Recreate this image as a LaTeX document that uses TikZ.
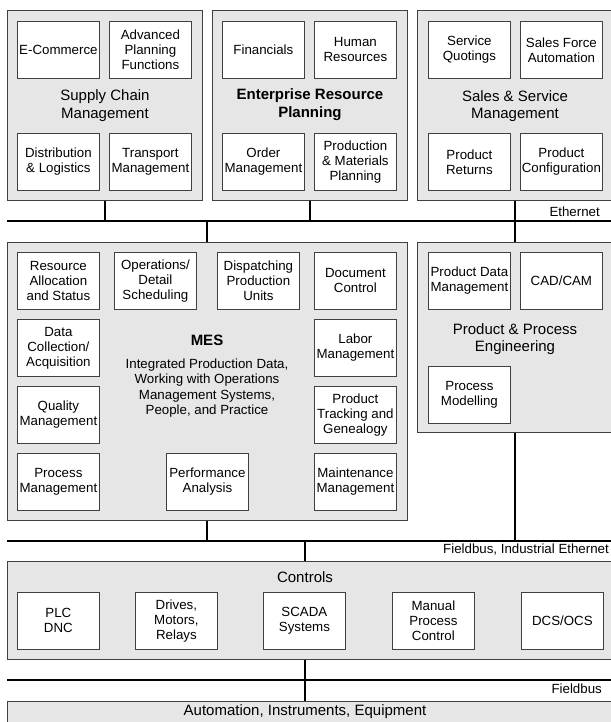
\documentclass[tikz,border=0pt]{standalone}
\usepackage{fontspec}
\setmainfont{Liberation Sans}
\definecolor{panel}{HTML}{E6E6E6}
\definecolor{edge}{HTML}{404040}
\begin{document}
\begin{tikzpicture}[x=1pt,y=-1pt,
 obox/.style={draw=edge, fill=panel, line width=0.9pt, anchor=north west, inner sep=0pt},
 ibox/.style={draw=edge, fill=white, line width=0.8pt, anchor=north west, inner sep=0pt,
   minimum width=82pt, minimum height=57pt, align=center, font=\fontsize{13.3}{15}\selectfont},
 big/.style={align=center, font=\fontsize{15}{17.5}\selectfont, inner sep=0pt},
 bigb/.style={align=center, font=\fontsize{15}{17.5}\selectfont\bfseries, inner sep=0pt},
 lbl/.style={font=\fontsize{13.3}{15}\selectfont, inner sep=0pt},
 sub/.style={align=center, font=\fontsize{13.3}{15.5}\selectfont, inner sep=0pt},
 bus/.style={line width=2pt},
 link/.style={line width=2pt}]
\useasboundingbox (0,0) rectangle (610,722);

% outer panels
\node[obox, minimum width=195pt, minimum height=190pt] (scm) at (7,10) {};
\node[obox, minimum width=195pt, minimum height=190pt] (erp) at (212,10) {};
\node[obox, minimum width=199pt, minimum height=190pt] (ssm) at (417,10) {};
\node[obox, minimum width=400pt, minimum height=278pt] (mes) at (7,242) {};
\node[obox, minimum width=199pt, minimum height=190pt] (ppe) at (417,242) {};
\node[obox, minimum width=609pt, minimum height=98pt] (ctl) at (7,561) {};
\node[obox, minimum width=609pt, minimum height=40pt] (aut) at (7,701) {};

% panel titles
\node[big] (scml) at (scm.center) {Supply Chain\\Management};
\node[bigb] (erpl) at ([yshift=1pt]erp.center) {Enterprise Resource\\Planning};
\node[big] (ssml) at (515,106) {Sales \& Service\\Management};
\node[big] (ppel) at (515,339) {Product \& Process\\Engineering};
\node[bigb] (mesl) at (207,340) {MES};
\node[sub] (mess) at (207,388) {Integrated Production Data,\\Working with Operations\\Management Systems,\\People, and Practice};
\node[big] (ctll) at (305,577) {Controls};
\node[big] (autl) at (305,712) {Automation, Instruments, Equipment};

% Supply chain
\node[ibox] (ecom) at (17,21) {E-Commerce};
\node[ibox] (apf) at (109,21) {Advanced\\Planning\\Functions};
\node[ibox] (dist) at (17,133) {Distribution\\\& Logistics};
\node[ibox] (trans) at (109,133) {Transport\\Management};
% ERP
\node[ibox] (fin) at (222,21) {Financials};
\node[ibox] (hr) at (314,21) {Human\\Resources};
\node[ibox] (order) at (222,133) {Order\\Management};
\node[ibox] (pmp) at (314,133) {Production\\\& Materials\\Planning};
% Sales & Service
\node[ibox] (quot) at (428,21) {Service\\Quotings};
\node[ibox] (sfa) at (520,21) {Sales Force\\Automation};
\node[ibox] (ret) at (428,133) {Product\\Returns};
\node[ibox] (conf) at (520,133) {Product\\Configuration};
% MES
\node[ibox] (res) at (17,252) {Resource\\Allocation\\and Status};
\node[ibox] (ops) at (114,252) {Operations/\\Detail\\Scheduling};
\node[ibox] (disp) at (217,252) {Dispatching\\Production\\Units};
\node[ibox] (doc) at (314,252) {Document\\Control};
\node[ibox] (dca) at (17,319) {Data\\Collection/\\Acquisition};
\node[ibox] (lab) at (314,319) {Labor\\Management};
\node[ibox] (qual) at (17,386) {Quality\\Management};
\node[ibox] (track) at (314,386) {Product\\Tracking and\\Genealogy};
\node[ibox] (proc) at (17,453) {Process\\Management};
\node[ibox] (perf) at (166,453) {Performance\\Analysis};
\node[ibox] (maint) at (314,453) {Maintenance\\Management};
% PPE
\node[ibox] (pdm) at (428,252) {Product Data\\Management};
\node[ibox] (cad) at (520,252) {CAD/CAM};
\node[ibox] (pmod) at (428,366) {Process\\Modelling};
% Controls
\node[ibox] (plc) at (17,592) {PLC\\DNC};
\node[ibox] (drv) at (135,592) {Drives,\\Motors,\\Relays};
\node[ibox] (scada) at (263,592) {SCADA\\Systems};
\node[ibox] (mpc) at (392,592) {Manual\\Process\\Control};
\node[ibox] (dcs) at (521,592) {DCS/OCS};

% buses
\coordinate (eth-w) at (7,221); \coordinate (eth-e) at (616,221);
\coordinate (fie-w) at (7,541); \coordinate (fie-e) at (616,541);
\coordinate (fb-w) at (7,680); \coordinate (fb-e) at (616,680);
\draw[bus] (eth-w) -- (eth-e);
\draw[bus] (fie-w) -- (fie-e);
\draw[bus] (fb-w) -- (fb-e);
\node[lbl, anchor=east] (ethl) at (600,212) {Ethernet};
\node[lbl, anchor=east] (fiel) at (609,550) {Fieldbus, Industrial Ethernet};
\node[lbl, anchor=east] (fbl) at (602,689) {Fieldbus};

% connectors
\draw[link] (scm.south) -- (scm.south |- eth-w);
\draw[link] (erp.south) -- (erp.south |- eth-w);
\draw[link] (ssml |- ssm.south) -- (ssml |- ppe.north);
\draw[link] (mes.north |- eth-w) -- (mes.north);
\draw[link] (mes.south) -- (mes.south |- fie-w);
\draw[link] (ssml |- ppe.south) -- (ssml |- fie-w);
\draw[link] (ctll |- fie-w) -- (ctll |- ctl.north);
\draw[link] (ctll |- ctl.south) -- (ctll |- aut.north);
\end{tikzpicture}
\end{document}
